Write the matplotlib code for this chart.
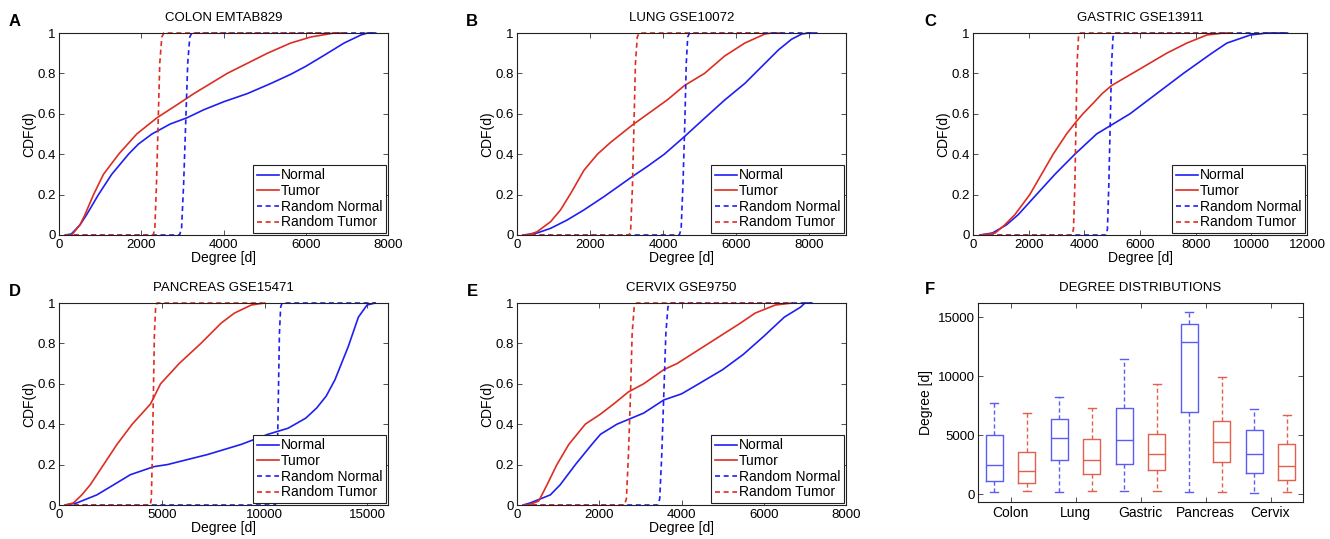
import matplotlib
matplotlib.use('Agg')
import matplotlib.pyplot as plt
from matplotlib.lines import Line2D

plt.rcParams['font.family'] = ['Liberation Sans', 'DejaVu Sans']
plt.rcParams['font.size'] = 9.5

# Cumulative degree distributions, read at selected degrees.
# Random networks share the same step shape.
rnd_y = [0, 0, 0.03, 0.25, 0.55, 0.85, 0.98, 1.0, 1.0]

# A - colon
colon_normal_x = [150, 300, 510, 670, 960, 1280, 1690, 1930, 2260, 2710, 3110, 3520, 4010, 4580, 5150, 5630,
                  6000, 6450, 6930, 7340, 7500, 7700]
colon_normal_y = [0, 0.005, 0.05, 0.1, 0.2, 0.3, 0.4, 0.45, 0.5, 0.55, 0.58, 0.62, 0.66, 0.7, 0.75, 0.795,
                  0.835, 0.89, 0.95, 0.99, 1.0, 1.0]
colon_tumor_x = [310, 510, 630, 840, 1080, 1450, 1890, 2380, 2910, 3280, 4090, 4580, 5070, 5630, 6120, 6690, 6940]
colon_tumor_y = [0, 0.05, 0.1, 0.2, 0.3, 0.4, 0.5, 0.58, 0.65, 0.7, 0.8, 0.85, 0.9, 0.95, 0.98, 1.0, 1.0]
colon_rnd_normal_x = [150, 2930, 2980, 3030, 3080, 3130, 3180, 3230, 7700]
colon_rnd_tumor_x = [150, 2290, 2330, 2370, 2410, 2450, 2500, 2550, 6940]

# B - lung
lung_normal_x = [180, 550, 920, 1370, 1830, 2380, 3160, 3570, 4030, 4580, 5130, 5680, 6230, 6690, 7150, 7510,
                 7790, 7970, 8200]
lung_normal_y = [0, 0.01, 0.033, 0.074, 0.124, 0.19, 0.29, 0.34, 0.4, 0.487, 0.578, 0.668, 0.75, 0.833, 0.916,
                 0.969, 0.995, 1.0, 1.0]
lung_tumor_x = [300, 550, 920, 1190, 1470, 1830, 2200, 2570, 3160, 3660, 4120, 4580, 5130, 5680, 6230, 6780,
                6960, 7240]
lung_tumor_y = [0, 0.016, 0.066, 0.124, 0.206, 0.32, 0.4, 0.46, 0.545, 0.61, 0.67, 0.74, 0.8, 0.886, 0.95,
                0.995, 1.0, 1.0]
lung_rnd_normal_x = [140, 4440, 4490, 4540, 4590, 4630, 4670, 4720, 8150]
lung_rnd_tumor_x = [140, 3070, 3110, 3160, 3200, 3240, 3290, 3340, 6780]

# C - gastric
gastric_normal_x = [250, 700, 1200, 1620, 2280, 2940, 3660, 4440, 4920, 5640, 6600, 7560, 8580, 9120, 9960,
                    10560, 11300]
gastric_normal_y = [0, 0.01, 0.05, 0.1, 0.2, 0.3, 0.4, 0.5, 0.54, 0.6, 0.7, 0.8, 0.9, 0.95, 0.99, 1.0, 1.0]
gastric_tumor_x = [250, 500, 800, 1140, 1500, 2040, 2460, 2880, 3360, 3700, 3950, 4300, 4640, 4980, 5850, 6960,
                   7680, 8400, 9000, 9300]
gastric_tumor_y = [0, 0.003, 0.01, 0.05, 0.1, 0.2, 0.3, 0.4, 0.5, 0.56, 0.6, 0.65, 0.7, 0.74, 0.81, 0.9, 0.95,
                   0.99, 1.0, 1.0]
gastric_rnd_normal_x = [250, 4780, 4830, 4880, 4930, 4980, 5030, 5100, 11300]
gastric_rnd_tumor_x = [250, 3560, 3610, 3660, 3700, 3740, 3790, 3850, 9300]

# D - pancreas
pancreas_normal_x = [300, 860, 1840, 2660, 3470, 4620, 5270, 7230, 8860, 10160, 11140, 12000, 12530, 13000,
                     13420, 14070, 14560, 14980, 15380]
pancreas_normal_y = [0, 0.01, 0.05, 0.1, 0.15, 0.19, 0.2, 0.25, 0.3, 0.35, 0.38, 0.43, 0.48, 0.54, 0.62,
                     0.785, 0.93, 0.99, 1.0]
pancreas_tumor_x = [300, 700, 1110, 1520, 2170, 2820, 3560, 4450, 4940, 5840, 6900, 7880, 8530, 9350, 10000]
pancreas_tumor_y = [0, 0.01, 0.05, 0.1, 0.2, 0.3, 0.4, 0.5, 0.6, 0.7, 0.8, 0.9, 0.95, 0.99, 1.0]
pancreas_rnd_normal_x = [300, 10520, 10570, 10620, 10670, 10720, 10780, 10850, 15380]
pancreas_rnd_tumor_x = [300, 4440, 4490, 4540, 4590, 4640, 4700, 4770, 9900]

# E - cervix
cervix_normal_x = [150, 320, 810, 1050, 1420, 1820, 2030, 2430, 3080, 3570, 4000, 4420, 5000, 5500, 6000,
                   6500, 6900, 7000, 7170]
cervix_normal_y = [0, 0.01, 0.05, 0.1, 0.2, 0.3, 0.35, 0.4, 0.455, 0.52, 0.55, 0.6, 0.67, 0.745, 0.835,
                   0.93, 0.98, 1.0, 1.0]
cervix_tumor_x = [150, 320, 530, 730, 970, 1260, 1660, 2030, 2350, 2710, 3080, 3570, 3890, 4660, 5430, 5790,
                  6280, 6690]
cervix_tumor_y = [0, 0.003, 0.02, 0.1, 0.2, 0.3, 0.4, 0.45, 0.5, 0.56, 0.6, 0.67, 0.7, 0.8, 0.9, 0.95, 0.99, 1.0]
cervix_rnd_normal_x = [150, 3420, 3470, 3520, 3570, 3620, 3670, 3730, 7170]
cervix_rnd_tumor_x = [150, 2610, 2660, 2710, 2760, 2800, 2850, 2910, 6690]

# F - box plot summaries (normal, tumor per tissue)
tissues = ['Colon', 'Lung', 'Gastric', 'Pancreas', 'Cervix']
normal_whislo = [169, 169, 254, 169, 113]
normal_q1 = [1156, 2933, 2566, 6994, 1777]
normal_med = [2453, 4766, 4625, 12887, 3440]
normal_q3 = [5048, 6373, 7332, 14438, 5471]
normal_whishi = [7727, 8206, 11421, 15454, 7247]
tumor_whislo = [254, 282, 282, 226, 197]
tumor_q1 = [987, 1720, 2087, 2735, 1184]
tumor_med = [1946, 2876, 3384, 4456, 2369]
tumor_q3 = [3610, 4653, 5132, 6204, 4230]
tumor_whishi = [6909, 7276, 9306, 9926, 6740]

BLUE = '#1f1ff2'
RED = '#dc2e22'
BOX_BLUE = '#5b5bf5'
BOX_RED = '#e2604e'
DASH = (0, (3, 2.2))

W, H = 1330, 539
fig = plt.figure(figsize=(W / 100, H / 100), dpi=100)


def add_axes_px(left, top, right, bottom):
    return fig.add_axes([left / W, 1 - bottom / H, (right - left) / W, (bottom - top) / H])


def style(ax):
    for s in ax.spines.values():
        s.set_color('#222222')
        s.set_linewidth(0.8)
    ax.tick_params(direction='in', top=True, right=True, length=3.5, width=0.6, color='#333333',
                   labelsize=9.5)
    ax.tick_params(axis='y', pad=2.5)
    ax.tick_params(axis='x', pad=3)


panels = [
    ('A', 'COLON EMTAB829', (59, 33, 388, 235), 8000, [0, 2000, 4000, 6000, 8000],
     colon_normal_x, colon_normal_y, colon_tumor_x, colon_tumor_y, colon_rnd_normal_x, colon_rnd_tumor_x),
    ('B', 'LUNG GSE10072', (517, 33, 846, 235), 9000, [0, 2000, 4000, 6000, 8000],
     lung_normal_x, lung_normal_y, lung_tumor_x, lung_tumor_y, lung_rnd_normal_x, lung_rnd_tumor_x),
    ('C', 'GASTRIC GSE13911', (973, 33, 1307, 235), 12000, [0, 2000, 4000, 6000, 8000, 10000, 12000],
     gastric_normal_x, gastric_normal_y, gastric_tumor_x, gastric_tumor_y, gastric_rnd_normal_x, gastric_rnd_tumor_x),
    ('D', 'PANCREAS GSE15471', (59, 303, 388, 505), 16000, [0, 5000, 10000, 15000],
     pancreas_normal_x, pancreas_normal_y, pancreas_tumor_x, pancreas_tumor_y, pancreas_rnd_normal_x,
     pancreas_rnd_tumor_x),
    ('E', 'CERVIX GSE9750', (517, 303, 846, 505), 8000, [0, 2000, 4000, 6000, 8000],
     cervix_normal_x, cervix_normal_y, cervix_tumor_x, cervix_tumor_y, cervix_rnd_normal_x, cervix_rnd_tumor_x),
]
letter_pos = {'A': (15, 21), 'B': (472, 22), 'C': (930, 22), 'D': (15, 291), 'E': (472, 292), 'F': (930, 290)}

for letter, title, rect, xmax, xticks, nx, ny, tx, ty, rnx, rtx in panels:
    ax = add_axes_px(*rect)
    ax.plot(nx, ny, color=BLUE, lw=1.2, clip_on=False)
    ax.plot(tx, ty, color=RED, lw=1.2, clip_on=False)
    ax.plot(rnx, rnd_y, color=BLUE, lw=1.2, linestyle=DASH, clip_on=False)
    ax.plot(rtx, rnd_y, color=RED, lw=1.2, linestyle=DASH, clip_on=False)
    ax.set_xlim(0, xmax)
    ax.set_ylim(0, 1)
    ax.set_xticks(xticks)
    ax.set_xticklabels([str(t) for t in xticks])
    ax.set_yticks([0, 0.2, 0.4, 0.6, 0.8, 1])
    ax.set_yticklabels(['0', '0.2', '0.4', '0.6', '0.8', '1'])
    ax.set_xlabel('Degree [d]', fontsize=10, labelpad=0)
    ax.set_ylabel('CDF(d)', fontsize=10, labelpad=1)
    ax.set_title(title, fontsize=9.5, pad=8.5)
    style(ax)
    handles = [Line2D([], [], color=BLUE, lw=1.2), Line2D([], [], color=RED, lw=1.2),
               Line2D([], [], color=BLUE, lw=1.2, linestyle=DASH),
               Line2D([], [], color=RED, lw=1.2, linestyle=DASH)]
    leg = ax.legend(handles, ['Normal', 'Tumor', 'Random Normal', 'Random Tumor'], loc='lower right',
                    fontsize=10, fancybox=False, framealpha=1, edgecolor='#222222', borderpad=0.25,
                    labelspacing=0.12, handlelength=1.6, handletextpad=0.15, borderaxespad=0.15)
    leg.get_frame().set_linewidth(0.8)

# F - degree distributions as box plots
axf = add_axes_px(978, 303, 1303, 502)
stats = []
positions = []
colors = []
for i in range(len(tissues)):
    stats.append(dict(med=normal_med[i], q1=normal_q1[i], q3=normal_q3[i],
                      whislo=normal_whislo[i], whishi=normal_whishi[i], fliers=[]))
    stats.append(dict(med=tumor_med[i], q1=tumor_q1[i], q3=tumor_q3[i],
                      whislo=tumor_whislo[i], whishi=tumor_whishi[i], fliers=[]))
    positions += [i + 1 - 0.25, i + 1 + 0.25]
    colors += [BOX_BLUE, BOX_RED]

bp = axf.bxp(stats, positions=positions, widths=0.26, capwidths=0.13, showfliers=False,
             whiskerprops=dict(linestyle=(0, (3, 2)), lw=1), boxprops=dict(lw=1),
             medianprops=dict(lw=1), capprops=dict(lw=1))
for j, c in enumerate(colors):
    bp['boxes'][j].set_color(c)
    bp['medians'][j].set_color(c)
    for k in (2 * j, 2 * j + 1):
        bp['whiskers'][k].set_color(c)
        bp['caps'][k].set_color(c)

axf.set_xlim(0.5, 5.5)
axf.set_ylim(-650, 16200)
axf.set_xticks(range(1, len(tissues) + 1))
axf.set_xticklabels(tissues)
axf.set_yticks([0, 5000, 10000, 15000])
axf.set_yticklabels(['0', '5000', '10000', '15000'])
axf.set_ylabel('Degree [d]', fontsize=10, labelpad=3)
axf.set_title('DEGREE DISTRIBUTIONS', fontsize=9.5, pad=8.5)
style(axf)
axf.tick_params(axis='x', labelsize=10)

for letter, (px, py) in letter_pos.items():
    fig.text(px / W, 1 - py / H, letter, fontsize=12, fontweight='bold', ha='center', va='center')

fig.savefig('out.png', dpi=100, facecolor='white')
